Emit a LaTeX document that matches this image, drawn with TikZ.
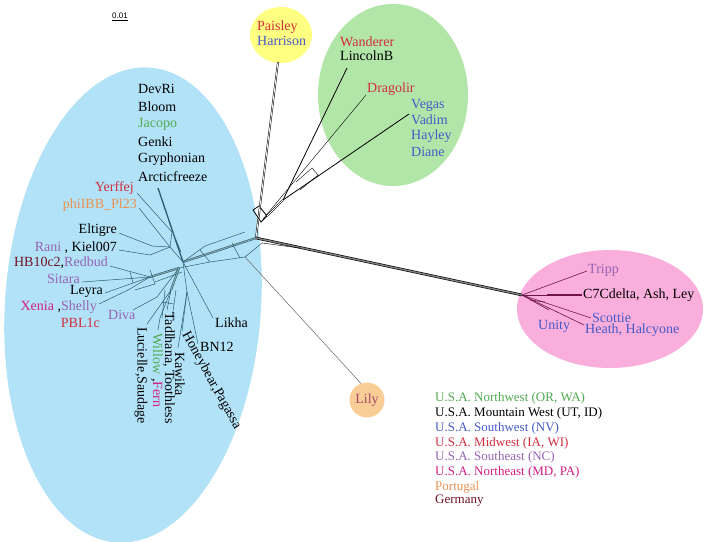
\documentclass[tikz,border=0pt]{standalone}
\usepackage{fontspec}
\setmainfont{Liberation Serif}
\newfontfamily\barfont{Liberation Sans}
\usetikzlibrary{calc}
\definecolor{skyFill}{RGB}{178,226,248}
\definecolor{sunFill}{RGB}{255,255,130}
\definecolor{leafFill}{RGB}{178,230,168}
\definecolor{roseFill}{RGB}{249,174,220}
\definecolor{lilyFill}{RGB}{250,205,150}
\definecolor{lilyText}{RGB}{165,75,105}
\definecolor{nwGreen}{RGB}{80,170,80}
\definecolor{swBlue}{RGB}{70,90,200}
\definecolor{midRed}{RGB}{210,45,60}
\definecolor{seViolet}{RGB}{150,100,180}
\definecolor{neMagenta}{RGB}{210,30,130}
\definecolor{ptOrange}{RGB}{235,145,80}
\definecolor{deMaroon}{RGB}{110,20,35}
\definecolor{treeTeal}{RGB}{40,95,110}
\definecolor{roseBranch}{RGB}{110,20,70}

\begin{document}
\begin{tikzpicture}[x=1pt, y=-1pt,
    every node/.style={inner sep=0pt, anchor=west, font=\fontsize{14}{16}\selectfont},
    legend/.style={font=\fontsize{13}{15}\selectfont},
    tb/.style={treeTeal, line width=0.5pt},
    tbb/.style={treeTeal, line width=0.55pt, double=treeTeal!55, double distance=1pt},
    ob/.style={black, line width=0.8pt},
    obb/.style={black, line width=0.5pt, double=white, double distance=0.8pt},
    rb/.style={roseBranch, line width=0.6pt}
  ]
    \useasboundingbox (0,0) rectangle (708,541);
    % Clade backgrounds
    \fill[skyFill, rotate around={-4:(133,305)}] (133,305) ellipse [x radius=128pt, y radius=238pt];
    \fill[sunFill] (281,35) ellipse [x radius=31pt, y radius=28pt];
    \fill[leafFill] (393,95) ellipse [x radius=75pt, y radius=91pt];
    \fill[roseFill] (610,309) ellipse [x radius=93pt, y radius=59pt];

    % Scale bar
    \node[anchor=center, font=\barfont\fontsize{8}{9}\selectfont] (scalebar) at (120,16) {0.01};
    \draw[line width=0.5pt] ([yshift=-1.5pt]scalebar.south west) -- ([yshift=-1.5pt]scalebar.south east);

    % Inner vertices of the network
    \coordinate (hub) at (183,262);
    \coordinate (hubl) at (179,268);
    \coordinate (upl) at (170,247);
    \coordinate (lft) at (150,277);
    \coordinate (dn1) at (171,290);
    \coordinate (dn2) at (187,292);
    \coordinate (ne) at (256,238);
    \coordinate (nel) at (245,257);
    \coordinate (ret) at (259,214);
    \coordinate (grn) at (283,200);
    \coordinate (rose) at (522,295);

    % Branch ends
    \coordinate (devri tip) at (158,188);
    \coordinate (yerffej tip) at (137,193);
    \coordinate (phiibb tip) at (139,208);
    \coordinate (eltigre tip) at (119,233);
    \coordinate (kiel tip) at (119,250);
    \coordinate (redbud tip) at (110,266);
    \coordinate (sitara tip) at (82,282);
    \coordinate (leyra tip) at (105,293);
    \coordinate (shelly tip) at (99,304);
    \coordinate (diva tip) at (133,310);
    \coordinate (lucielle tip) at (147,324);
    \coordinate (willow tip) at (158,330);
    \coordinate (tadl tip) at (167,310);
    \coordinate (kawika tip) at (178,348);
    \coordinate (honey tip) at (182,331);
    \coordinate (bn tip) at (198,344);
    \coordinate (likha tip) at (213,318);
    \coordinate (paisley tip) at (278,62);
    \coordinate (lincoln tip) at (347,68);
    \coordinate (drag tip) at (366,95);
    \coordinate (vegas tip) at (409,114);
    \coordinate (tripp tip) at (587,271);
    \coordinate (c7c tip) at (582,295);
    \coordinate (scottie tip) at (591,318);
    \coordinate (heath tip) at (584,325);
    \coordinate (unity tip) at (549,310);

    % Blue clade branches
    \draw[treeTeal, line width=1.3pt] (hub) -- (devri tip);
    \draw[tb] (hub) -- (upl);
    \draw[tb] (upl) -- (172,232) -- (yerffej tip);
    \draw[tb] (upl) -- (phiibb tip);
    \draw[tb] (upl) -- (152,246) -- (eltigre tip);
    \draw[tb] (upl) -- (150,255) -- (kiel tip);
    \draw[tb] (176,240) -- (181,252);
    \draw[tbb] (hubl) -- (lft);
    \draw[tb] (182,272) -- (155,282);
    \draw[tb] (lft) -- (redbud tip);
    \draw[tb] (lft) -- (sitara tip);
    \draw[tb] (lft) -- (leyra tip);
    \draw[tb] (lft) -- (128,290) -- (shelly tip);
    \draw[tb] (hubl) -- (157,297) -- (diva tip);
    \draw[tb] (150,270) -- (155,284) -- (135,290);
    \draw[tb] (130,272) -- (133,283);
    \draw[tbb] (hubl) -- (dn1);
    \draw[tb] (dn1) -- (lucielle tip);
    \draw[tb] (dn1) -- (160,318) -- (willow tip);
    \draw[tb] (dn1) -- (tadl tip);
    \draw[tb] (165,290) -- (162,318);
    \draw[tb] (176,290) -- (172,318);
    \draw[tb] (162,302) -- (174,304);
    \draw[tb] (hub) -- (dn2);
    \draw[tb] (dn2) -- (kawika tip);
    \draw[tb] (dn2) -- (honey tip);
    \draw[tb] (dn2) -- (bn tip);
    \draw[tb] (hub) -- (likha tip);
    \draw[tbb] (hub) -- (ne);
    \draw[tb] (hubl) -- (210,262) -- (nel) -- (262,243);
    \draw[tb] (200,250) -- (210,262);
    \draw[tb] (232,243) -- (240,258);
    \draw[tb] (hub) -- (205,246) -- (245,232);

    % Lily
    \node[circle, fill=lilyFill, minimum size=35pt, anchor=center, text=lilyText] (lily) at (367,400) {Lily};
    \draw[gray!80!black, line width=0.5pt] (nel) -- (lily.110);

    % Outer branches
    \draw[obb] (ne) -- (ret);
    \draw[ob] (253,210) -- (261,222) -- (267,216) -- (259,206) -- cycle;
    \draw[obb] (ret) -- (paisley tip);
    \draw[obb] (267,216) -- (grn);
    \draw[ob] (grn) -- (lincoln tip);
    \draw[ob] (grn) -- (vegas tip);
    \draw[black, line width=0.4pt] (263,219) -- (drag tip);
    \draw[black, line width=0.4pt] (296,182) -- (312,168) -- (318,175) -- (300,190);
    \draw[black, line width=0.6pt, double=gray, double distance=1.4pt] (ne) -- (rose);
    \draw[black, line width=0.4pt] (262,243) -- (300,248);

    % Rose clade branches
    \draw[rb] (rose) -- (tripp tip);
    \draw[roseBranch, line width=2pt] (547,295) -- (c7c tip);
    \draw[rb] (rose) -- (547,295);
    \draw[rb] (rose) -- (scottie tip);
    \draw[rb] (rose) -- (heath tip);
    \draw[rb] (rose) -- (unity tip);
    \draw[rb] (530,300) -- (545,302);

    % Blue clade labels
    \node (devri) at (138,89) {DevRi};
    \node (bloom) at (138,107) {Bloom};
    \node[text=nwGreen] (jacopo) at (138,124) {Jacopo};
    \node (genki) at (138,142) {Genki};
    \node (gryph) at (138,159) {Gryphonian};
    \node (arctic) at (138,177) {Arcticfreeze};
    \node[anchor=east, text=midRed] (yerffej) at (134,188) {Yerffej};
    \node[anchor=east, text=ptOrange] (phiibb) at (137,205) {phiIBB\_Pl23};
    \node[anchor=east] (eltigre) at (117,230) {Eltigre};
    \node[anchor=east] (rani) at (117,248) {\textcolor{seViolet}{Rani} , Kiel007};
    \node[anchor=east] (hb) at (108,263) {\textcolor{deMaroon}{HB10c2},\textcolor{seViolet}{Redbud}};
    \node[anchor=east, text=seViolet] (sitara) at (80,279) {Sitara};
    \node[anchor=east] (leyra) at (103,291) {Leyra};
    \node[anchor=east] (xenia) at (97,307) {\textcolor{neMagenta}{Xenia} ,\textcolor{seViolet}{Shelly}};
    \node[text=seViolet] (diva) at (108,315) {Diva};
    \node[anchor=east, text=midRed] (pbl) at (100,323) {PBL1c};
    \node[rotate=-90] (lucielle) at (141,327) {Lucielle,Saudage};
    \node[rotate=-90] (willow) at (157,333) {\textcolor{nwGreen}{Willow} ,\textcolor{neMagenta}{Fern}};
    \node[rotate=-90] (tadl) at (169,312) {Tadlhana, Toothless};
    \node[rotate=-90] (kawika) at (180,352) {Kawika};
    \node[rotate=-61] (honey) at (185,333) {Honeybear,Pagassa};
    \node (bn) at (200,347) {BN12};
    \node (likha) at (215,323) {Likha};

    % Top and right labels
    \node[text=midRed] (paisley) at (257,27) {Paisley};
    \node[text=swBlue] (harrison) at (257,41) {Harrison};
    \node[text=midRed] (wanderer) at (340,42) {Wanderer};
    \node (lincoln) at (340,56) {LincolnB};
    \node[text=midRed] (dragolir) at (367,89) {Dragolir};
    \node[text=swBlue] (vegas) at (411,105) {Vegas};
    \node[text=swBlue] (vadim) at (411,120) {Vadim};
    \node[text=swBlue] (hayley) at (411,136) {Hayley};
    \node[text=swBlue] (diane) at (411,152) {Diane};
    \node[text=seViolet] (tripp) at (588,270) {Tripp};
    \node (c7c) at (583,295) {C7Cdelta, Ash, Ley};
    \node[text=swBlue] (scottie) at (592,318) {Scottie};
    \node[text=swBlue] (unity) at (538,326) {Unity};
    \node[text=swBlue] (heath) at (585,330) {Heath, Halcyone};

    % Legend
    \node[legend, text=nwGreen] (lgnw) at (435,398) {U.S.A. Northwest (OR, WA)};
    \node[legend] (lgmw) at (435,413) {U.S.A. Mountain West (UT, ID)};
    \node[legend, text=swBlue] (lgsw) at (435,428) {U.S.A. Southwest (NV)};
    \node[legend, text=midRed] (lgmid) at (435,443) {U.S.A. Midwest (IA, WI)};
    \node[legend, text=seViolet] (lgse) at (435,457) {U.S.A. Southeast (NC)};
    \node[legend, text=neMagenta] (lgne) at (435,472) {U.S.A. Northeast (MD, PA)};
    \node[legend, text=ptOrange] (lgpt) at (435,487) {Portugal};
    \node[legend, text=deMaroon] (lgde) at (435,501) {Germany};
  \end{tikzpicture}
\end{document}
